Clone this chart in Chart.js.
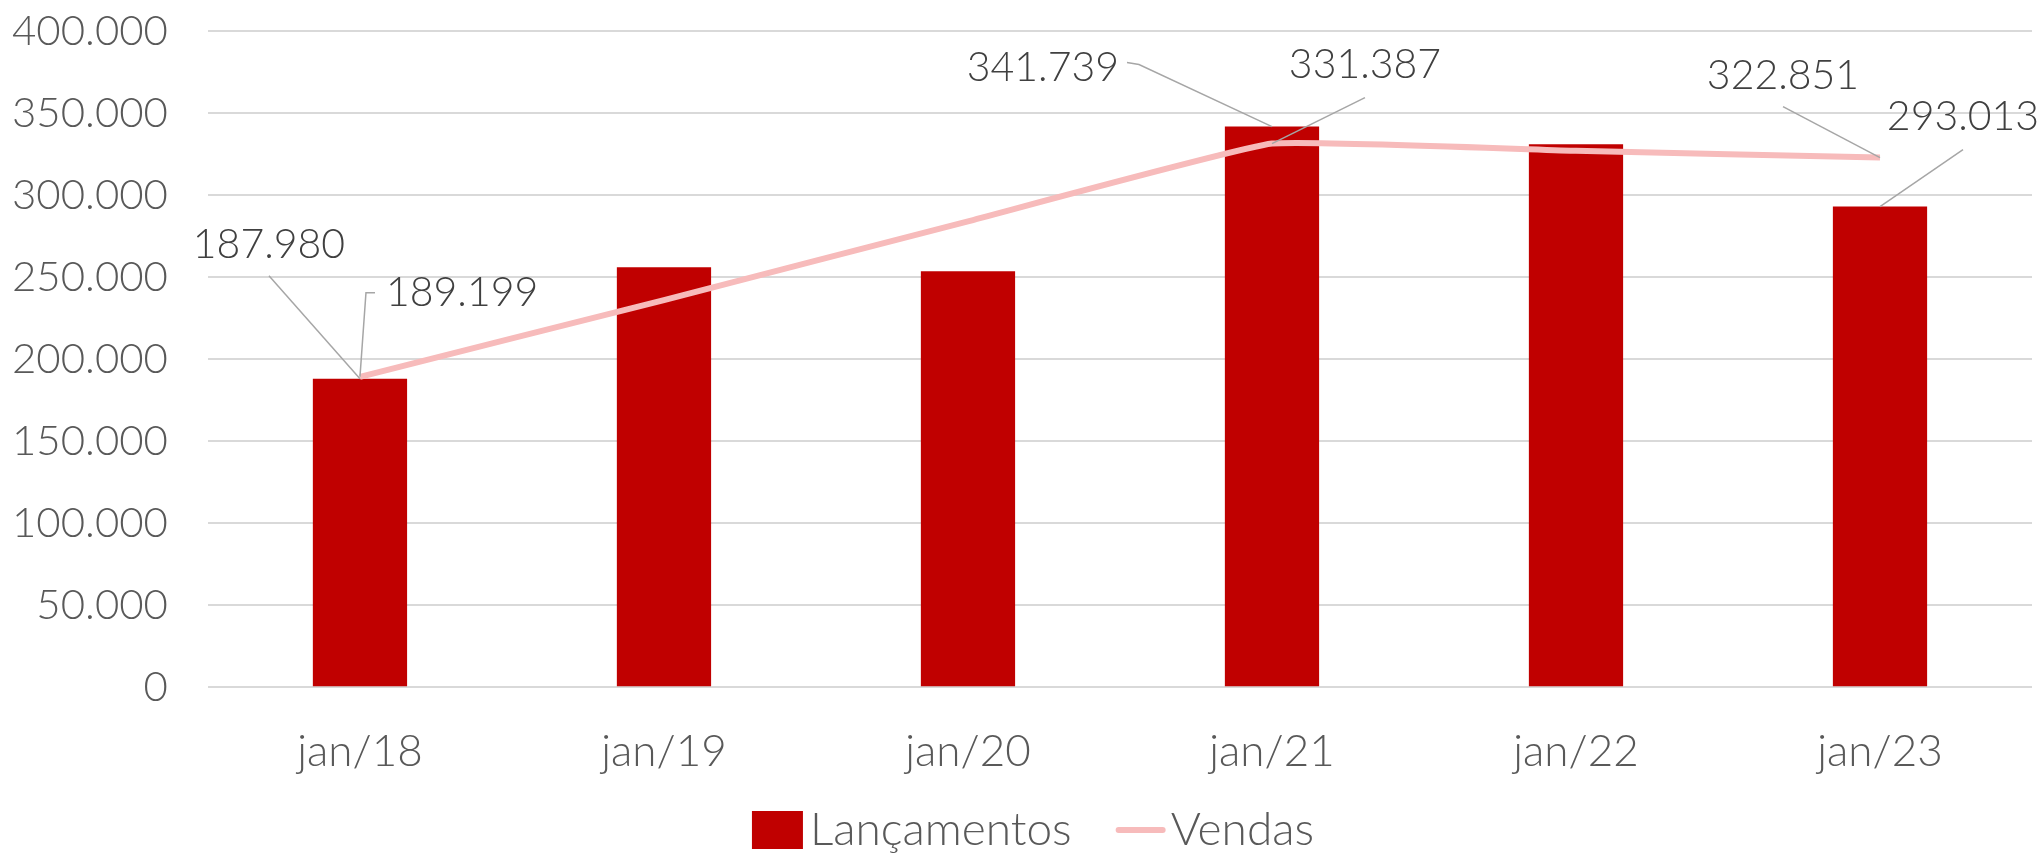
<!DOCTYPE html>
<html lang="pt-BR">
<head>
    <meta charset="UTF-8">
    <title>Lançamentos e Vendas</title>
    <script src="https://cdn.jsdelivr.net/npm/chart.js"></script>
    <style>
        body { margin: 0; background: #fff; }
    </style>
</head>
<body>

<canvas id="grafico" width="2044" height="856"></canvas>

<script>
    // dados
    const meses = ['jan/18', 'jan/19', 'jan/20', 'jan/21', 'jan/22', 'jan/23'];
    const lancamentos = [187980, 256000, 253500, 341739, 331000, 293013];
    const vendas = [189199, 236000, 284000, 331387, 327000, 322851];

    const fonte = 'Lato, "Noto Sans", sans-serif';
    const fmt = v => v.toLocaleString('de-DE');

    // rótulos com linha de chamada (deslocamento em px a partir do ponto)
    const rotulos = [
        { ds: 0, i: 0, dx: -91, dy: -134, align: 'center', leader: [[-91, -103], [0, 0]] },
        { ds: 1, i: 0, dx: 26, dy: -84, align: 'left', leader: [[15, -84], [6, -84], [0, 0]] },
        { ds: 0, i: 3, dx: -153, dy: -59, align: 'right', leader: [[-145, -64], [-133, -62], [0, 0]] },
        { ds: 1, i: 3, dx: 93, dy: -79, align: 'center', leader: [[93, -46], [0, 0]] },
        { ds: 1, i: 5, dx: -97, dy: -82, align: 'center', leader: [[-97, -51], [0, 0]] },
        { ds: 0, i: 5, dx: 83, dy: -90, align: 'center', leader: [[83, -57], [0, 0]] }
    ];

    const pluginRotulos = {
        id: 'rotulos',
        afterDatasetsDraw(chart) {
            const ctx = chart.ctx;
            ctx.save();
            rotulos.forEach(r => {
                const el = chart.getDatasetMeta(r.ds).data[r.i];
                const x = el.x, y = el.y;
                ctx.strokeStyle = '#a6a6a6';
                ctx.lineWidth = 1.5;
                ctx.beginPath();
                r.leader.forEach((p, k) => {
                    if (k === 0) ctx.moveTo(x + p[0], y + p[1]);
                    else ctx.lineTo(x + p[0], y + p[1]);
                });
                ctx.stroke();
                ctx.fillStyle = '#404040';
                ctx.font = '300 41px ' + fonte;
                ctx.textAlign = r.align;
                ctx.textBaseline = 'middle';
                ctx.fillText(fmt(chart.data.datasets[r.ds].data[r.i]), x + r.dx, y + r.dy);
            });
            ctx.restore();
        }
    };

    // legenda desenhada à mão (caixa e texto colados, como no Excel)
    const pluginLegenda = {
        id: 'legendaExcel',
        afterDraw(chart) {
            const ctx = chart.ctx;
            const ds = chart.data.datasets;
            ctx.save();
            ctx.font = '300 46px ' + fonte;
            ctx.textBaseline = 'middle';
            ctx.textAlign = 'left';
            const w0 = ctx.measureText(ds[0].label).width;
            const w1 = ctx.measureText(ds[1].label).width;
            const total = 51 + 7 + w0 + 44 + 50 + 5 + w1;
            let x = chart.width / 2 + 11 - total / 2;
            const y = chart.height - 26;
            ctx.fillStyle = ds[0].backgroundColor;
            ctx.fillRect(x, y - 19, 51, 38);
            x += 58;
            ctx.fillStyle = '#595959';
            ctx.fillText(ds[0].label, x, y);
            x += w0 + 44;
            ctx.strokeStyle = ds[1].borderColor;
            ctx.lineWidth = 6;
            ctx.lineCap = 'round';
            ctx.beginPath();
            ctx.moveTo(x + 3, y);
            ctx.lineTo(x + 47, y);
            ctx.stroke();
            x += 55;
            ctx.fillText(ds[1].label, x, y);
            ctx.restore();
        }
    };

    new Chart(document.getElementById('grafico'), {
        data: {
            labels: meses,
            datasets: [
                {
                    type: 'bar',
                    label: 'Lançamentos',
                    data: lancamentos,
                    backgroundColor: '#c00000',
                    borderWidth: 0,
                    barPercentage: 0.31,
                    categoryPercentage: 1,
                    order: 1
                },
                {
                    type: 'line',
                    label: 'Vendas',
                    data: vendas,
                    borderColor: '#f7bbbb',
                    backgroundColor: '#f7bbbb',
                    borderWidth: 6,
                    pointRadius: 0,
                    pointHoverRadius: 0,
                    tension: 0.1,
                    order: 0
                }
            ]
        },
        options: {
            responsive: false,
            animation: false,
            layout: { padding: { left: 12, right: 12, top: 2, bottom: 48 } },
            plugins: {
                legend: { display: false },
                tooltip: { enabled: false }
            },
            scales: {
                x: {
                    grid: { display: false },
                    border: { display: false },
                    ticks: {
                        padding: 30,
                        color: '#595959',
                        font: { family: fonte, size: 44, weight: '300' }
                    }
                },
                y: {
                    min: 0,
                    max: 400000,
                    grid: { color: '#d9d9d9', lineWidth: 2, drawTicks: false },
                    border: { display: false },
                    ticks: {
                        stepSize: 50000,
                        padding: 40,
                        color: '#595959',
                        font: { family: fonte, size: 42, weight: '300' },
                        callback: v => fmt(v)
                    },
                    afterFit: s => {
                        s.width -= 40;
                        s.paddingTop = 31;
                        s.paddingBottom = 28;
                    }
                }
            }
        },
        plugins: [pluginRotulos, pluginLegenda]
    });
</script>

</body>
</html>
